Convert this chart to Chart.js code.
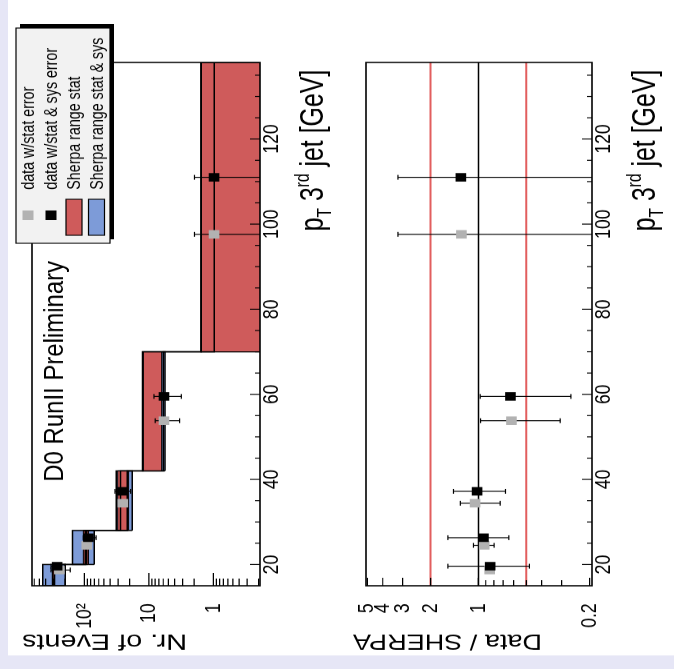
<!DOCTYPE html>
<html>
<head>
<meta charset="utf-8">
<script src="https://cdn.jsdelivr.net/npm/chart.js@4.4.0/dist/chart.umd.min.js"></script>
<style>
html, body { margin: 0; padding: 0; width: 674px; height: 669px; overflow: hidden; background: #fff; }
/* the figure is drawn upright, squeezed a little and turned a quarter turn */
#page { position: absolute; left: 0; top: 0; width: 836px; height: 674px; background: #e6e6f6;
        transform-origin: 0 0; transform: translateY(669px) rotate(-90deg) scaleX(0.8002); }
#sheet { position: absolute; left: 17px; top: 8px; width: 819px; height: 666px; background: #fff; }
canvas { position: absolute; left: 0; }
#topChart { top: 0; }
#bottomChart { top: 337px; }
</style>
</head>
<body>
<div id="page">
  <div id="sheet"></div>
  <canvas id="topChart" width="836" height="337"></canvas>
  <canvas id="bottomChart" width="836" height="337"></canvas>
</div>
<script>
// bins of pT 3rd jet and the Sherpa ranges
const binEdges = [15, 20, 28, 42, 70, 138];
const sherpaSysLow = [199, 70.7, 18.1, 5.65, 0.05];
const sherpaSysHigh = [441, 153, 32, 12.6, 1.56];
const sherpaStatLow = [288, 86.7, 20.7, 6.35, 0.05];
const sherpaStatHigh = [315, 104, 30.5, 12.3, 1.55];
const sherpaUpper = [311, 97, 27.5, 12.4, 1.55];
const sherpaLower = [295, 92, 21.7, 6.0, 0.97];

// data w/stat error (grey)
const statPt = [18.7, 24.5, 34.4, 53.8, 97.6];
const statEvents = [245, 92, 25.4, 5.85, 0.98];
const statEventsLow = [166, 86, 24, 3.35, 0.01];
const statEventsHigh = [330, 98, 27, 8.0, 1.97];

// data w/stat & sys error (black)
const fullPt = [19.6, 26.3, 37.2, 59.5, 111];
const fullEvents = [265, 86.7, 25.8, 5.85, 0.98];
const fullEventsLow = [200, 66, 19.2, 3.15, 0.01];
const fullEventsHigh = [330, 104, 33.6, 8.36, 1.97];

// Data / SHERPA
const statRatio = [0.85, 0.92, 1.05, 0.62, 1.28];
const statRatioLow = [0.82, 0.797, 0.73, 0.306, 0.01];
const statRatioHigh = [0.88, 1.075, 1.30, 0.97, 3.21];
const fullRatio = [0.844, 0.93, 1.02, 0.629, 1.29];
const fullRatioLow = [0.478, 0.644, 0.676, 0.262, 0.01];
const fullRatioHigh = [1.557, 1.557, 1.436, 0.975, 3.21];
const ratioBandLines = [0.5, 2];
const ratioUnitLine = [1];

// axis ticks
const ptTicks = [20, 25, 30, 35, 40, 45, 50, 55, 60, 65, 70, 75, 80, 85, 90, 95, 100, 105, 110, 115, 120, 125, 130, 135];
const ptLabels = [20, 40, 60, 80, 100, 120];
const eventTicks = [0.2, 0.3, 0.4, 0.5, 0.6, 0.7, 0.8, 0.9, 1, 2, 3, 4, 5, 6, 7, 8, 9, 10, 20, 30, 40, 50, 60, 70, 80, 90, 100, 200, 300, 400, 500, 600];
const eventLabels = { 1: '1', 10: '10', 100: '10\u00B2' };
const ratioTicks = [0.2, 0.3, 0.4, 0.5, 0.6, 0.7, 0.8, 0.9, 1, 2, 3, 4, 5];
const ratioLabels = [0.2, 1, 2, 3, 4, 5];

const legendItems = ['data w/stat error', 'data w/stat & sys error', 'Sherpa range stat', 'Sherpa range stat & sys'];

const colors = {
    red: '#cf5b5b',
    blue: '#7d9bd8',
    grey: '#b2b2b2',
    line: '#e25e5e',
    legendBg: '#f2f2f2'
};
const FONT = '"Liberation Sans", Arial, Helvetica, sans-serif';

Chart.defaults.font.family = FONT;

function boxSets(lo, hi, color, width, order) {
    return lo.map((l, i) => ({
        data: [
            { x: binEdges[i], y: l }, { x: binEdges[i], y: hi[i] },
            { x: binEdges[i + 1], y: hi[i] }, { x: binEdges[i + 1], y: l },
            { x: binEdges[i], y: l }
        ],
        backgroundColor: color, borderColor: '#000', borderWidth: width,
        fill: 'shape', pointRadius: 0, order
    }));
}

function stepSet(vals, order) {
    return {
        data: binEdges.map((e, i) => ({ x: e, y: vals[Math.min(i, vals.length - 1)] })),
        stepped: 'before', borderColor: '#000', borderWidth: 1.5, pointRadius: 0, fill: false, order
    };
}

function errorSet(pt, lo, hi, order) {
    return {
        data: pt.flatMap((p, i) => [{ x: p, y: lo[i] }, { x: p, y: hi[i] }, { x: p, y: null }]),
        borderColor: '#000', borderWidth: 1.2, spanGaps: false, fill: false,
        pointStyle: 'line', pointRadius: 3, pointBorderColor: '#000', pointBorderWidth: 1.2, order
    };
}

function markerSet(pt, vals, color, order) {
    return {
        data: pt.map((p, i) => ({ x: p, y: vals[i] })),
        showLine: false, pointStyle: 'rect', pointRadius: 7.5,
        pointBackgroundColor: color, pointBorderWidth: 0, order
    };
}

function hLineSet(value, color, width, order) {
    return {
        data: [{ x: binEdges[0], y: value }, { x: binEdges[binEdges.length - 1], y: value }],
        borderColor: color, borderWidth: width, pointRadius: 0, fill: false, order
    };
}

function drawFitted(ctx, text, x, y, size, length, align, vertical) {
    ctx.save();
    ctx.font = size + 'px ' + FONT;
    const w = ctx.measureText(text).width;
    ctx.translate(x, y);
    if (vertical) ctx.rotate(-Math.PI / 2);
    ctx.scale(length / w, 1);
    ctx.textAlign = align;
    ctx.textBaseline = 'alphabetic';
    ctx.fillStyle = '#000';
    ctx.fillText(text, 0, 0);
    ctx.restore();
}

// p_T 3^rd jet [GeV] with sub- and superscript
function drawPtTitle(ctx, right, baseline) {
    const F = 34;
    const parts = [['p', F, 0], ['T', F * 0.62, F * 0.24], [' 3', F, 0], ['rd', F * 0.62, -F * 0.42], [' jet [GeV]', F, 0]];
    const target = 202;
    ctx.save();
    let total = 0;
    parts.forEach(p => { ctx.font = p[1] + 'px ' + FONT; total += ctx.measureText(p[0]).width; });
    ctx.translate(right - target, baseline);
    ctx.scale(target / total, 1);
    ctx.fillStyle = '#000';
    ctx.textBaseline = 'alphabetic';
    let x = 0;
    parts.forEach(p => {
        ctx.font = p[1] + 'px ' + FONT;
        ctx.fillText(p[0], x, p[2]);
        x += ctx.measureText(p[0]).width;
    });
    ctx.restore();
}

// frame and ticks pointing inwards
const frameTicks = {
    id: 'frameTicks',
    afterDatasetsDraw(chart, args, opts) {
        const { ctx, chartArea: a, scales: { x, y } } = chart;
        ctx.save();
        ctx.strokeStyle = '#000';
        ctx.lineWidth = 1.2;
        ctx.beginPath();
        x.ticks.forEach(t => {
            const px = x.getPixelForValue(t.value);
            const len = ptLabels.includes(t.value) ? 10 : 5;
            ctx.moveTo(px, a.bottom);
            ctx.lineTo(px, a.bottom - len);
        });
        y.ticks.forEach(t => {
            const py = y.getPixelForValue(t.value);
            const len = t.label ? opts.major : opts.minor;
            ctx.moveTo(a.left, py);
            ctx.lineTo(a.left + len, py);
        });
        ctx.stroke();
        ctx.lineWidth = 1.6;
        ctx.strokeRect(a.left, a.top, a.right - a.left, a.bottom - a.top);
        ctx.restore();
    }
};

const topDecor = {
    id: 'topDecor',
    afterDraw(chart) {
        const ctx = chart.ctx;
        drawFitted(ctx, 'D0 RunII Preliminary', 234, 63, 28, 276, 'left', false);
        drawFitted(ctx, 'Nr. of Events', 43, 22, 28, 165, 'right', true);
        drawPtTitle(ctx, 749, 323);

        // legend box with shadow
        ctx.save();
        ctx.fillStyle = '#000';
        ctx.fillRect(537, 20, 269, 94);
        ctx.fillStyle = colors.legendBg;
        ctx.fillRect(532, 16, 269, 94);
        ctx.strokeStyle = '#000';
        ctx.lineWidth = 1.2;
        ctx.strokeRect(532, 16, 269, 94);
        const rows = [28, 51, 74, 96.5];
        ctx.fillStyle = colors.grey;
        ctx.fillRect(561, rows[0] - 5.5, 12, 11);
        ctx.fillStyle = '#000';
        ctx.fillRect(561, rows[1] - 5.5, 12, 11);
        [colors.red, colors.blue].forEach((c, k) => {
            ctx.fillStyle = c;
            ctx.fillRect(542, rows[2 + k] - 8, 45, 16);
            ctx.strokeRect(542, rows[2 + k] - 8, 45, 16);
        });
        ctx.font = '18px ' + FONT;
        const sx = 190 / ctx.measureText(legendItems[3]).width;
        legendItems.forEach((t, k) => {
            const w = ctx.measureText(t).width * sx;
            drawFitted(ctx, t, 599, rows[k] + 6, 18, w, 'left', false);
        });
        ctx.restore();
    }
};

const bottomDecor = {
    id: 'bottomDecor',
    afterDraw(chart) {
        const ctx = chart.ctx;
        drawFitted(ctx, 'Data / SHERPA', 43, 16, 28, 189, 'right', true);
        drawPtTitle(ctx, 749, 318);
    }
};

const tickFont = { family: FONT, size: 22 };

function ptAxis(height) {
    return {
        type: 'linear', min: binEdges[0], max: binEdges[binEdges.length - 1],
        grid: { display: false, drawTicks: false }, border: { display: false },
        afterBuildTicks: s => { s.ticks = ptTicks.map(v => ({ value: v })); },
        afterFit: s => { s.height = height; },
        ticks: {
            autoSkip: false, maxRotation: 0, padding: -1, color: '#000', font: tickFont,
            callback: v => ptLabels.includes(v) ? String(v) : ''
        }
    };
}

function logAxis(min, max, tickValues, label) {
    return {
        type: 'logarithmic', min, max,
        grid: { display: false, tickLength: 8 }, border: { display: false },
        afterBuildTicks: s => { s.ticks = tickValues.map(v => ({ value: v })); },
        afterFit: s => { s.width = 104; },
        ticks: { autoSkip: false, padding: 14, color: '#000', font: tickFont, callback: label }
    };
}

// upper panel: Nr. of Events
new Chart(document.getElementById('topChart'), {
    type: 'line',
    data: {
        datasets: [
            ...boxSets(sherpaSysLow, sherpaSysHigh, colors.blue, 1.5, 50),
            ...boxSets(sherpaStatLow, sherpaStatHigh, colors.red, 1, 40),
            stepSet(sherpaUpper, 30),
            stepSet(sherpaLower, 30),
            errorSet(statPt, statEventsLow, statEventsHigh, 20),
            errorSet(fullPt, fullEventsLow, fullEventsHigh, 20),
            markerSet(statPt, statEvents, colors.grey, 11),
            markerSet(fullPt, fullEvents, '#000', 10)
        ]
    },
    options: {
        responsive: false,
        animation: false,
        devicePixelRatio: 1,
        layout: { padding: { left: 0, right: 78, top: 32, bottom: 0 } },
        plugins: {
            legend: { display: false },
            tooltip: { enabled: false },
            frameTicks: { major: 16, minor: 9 }
        },
        scales: {
            x: ptAxis(77),
            y: logAxis(0.19, 650, eventTicks, v => eventLabels[v] || '')
        }
    },
    plugins: [frameTicks, topDecor]
});

// lower panel: Data / SHERPA
new Chart(document.getElementById('bottomChart'), {
    type: 'line',
    data: {
        datasets: [
            ...ratioBandLines.map(v => hLineSet(v, colors.line, 2, 60)),
            ...ratioUnitLine.map(v => hLineSet(v, '#000', 1.5, 55)),
            errorSet(statPt, statRatioLow, statRatioHigh, 20),
            errorSet(fullPt, fullRatioLow, fullRatioHigh, 20),
            markerSet(statPt, statRatio, colors.grey, 11),
            markerSet(fullPt, fullRatio, '#000', 10)
        ]
    },
    options: {
        responsive: false,
        animation: false,
        devicePixelRatio: 1,
        layout: { padding: { left: 0, right: 78, top: 29, bottom: 0 } },
        plugins: {
            legend: { display: false },
            tooltip: { enabled: false },
            frameTicks: { major: 10, minor: 7 }
        },
        scales: {
            x: ptAxis(82),
            y: logAxis(0.193, 5.1, ratioTicks, v => ratioLabels.includes(v) ? String(v) : '')
        }
    },
    plugins: [frameTicks, bottomDecor]
});
</script>
</body>
</html>
